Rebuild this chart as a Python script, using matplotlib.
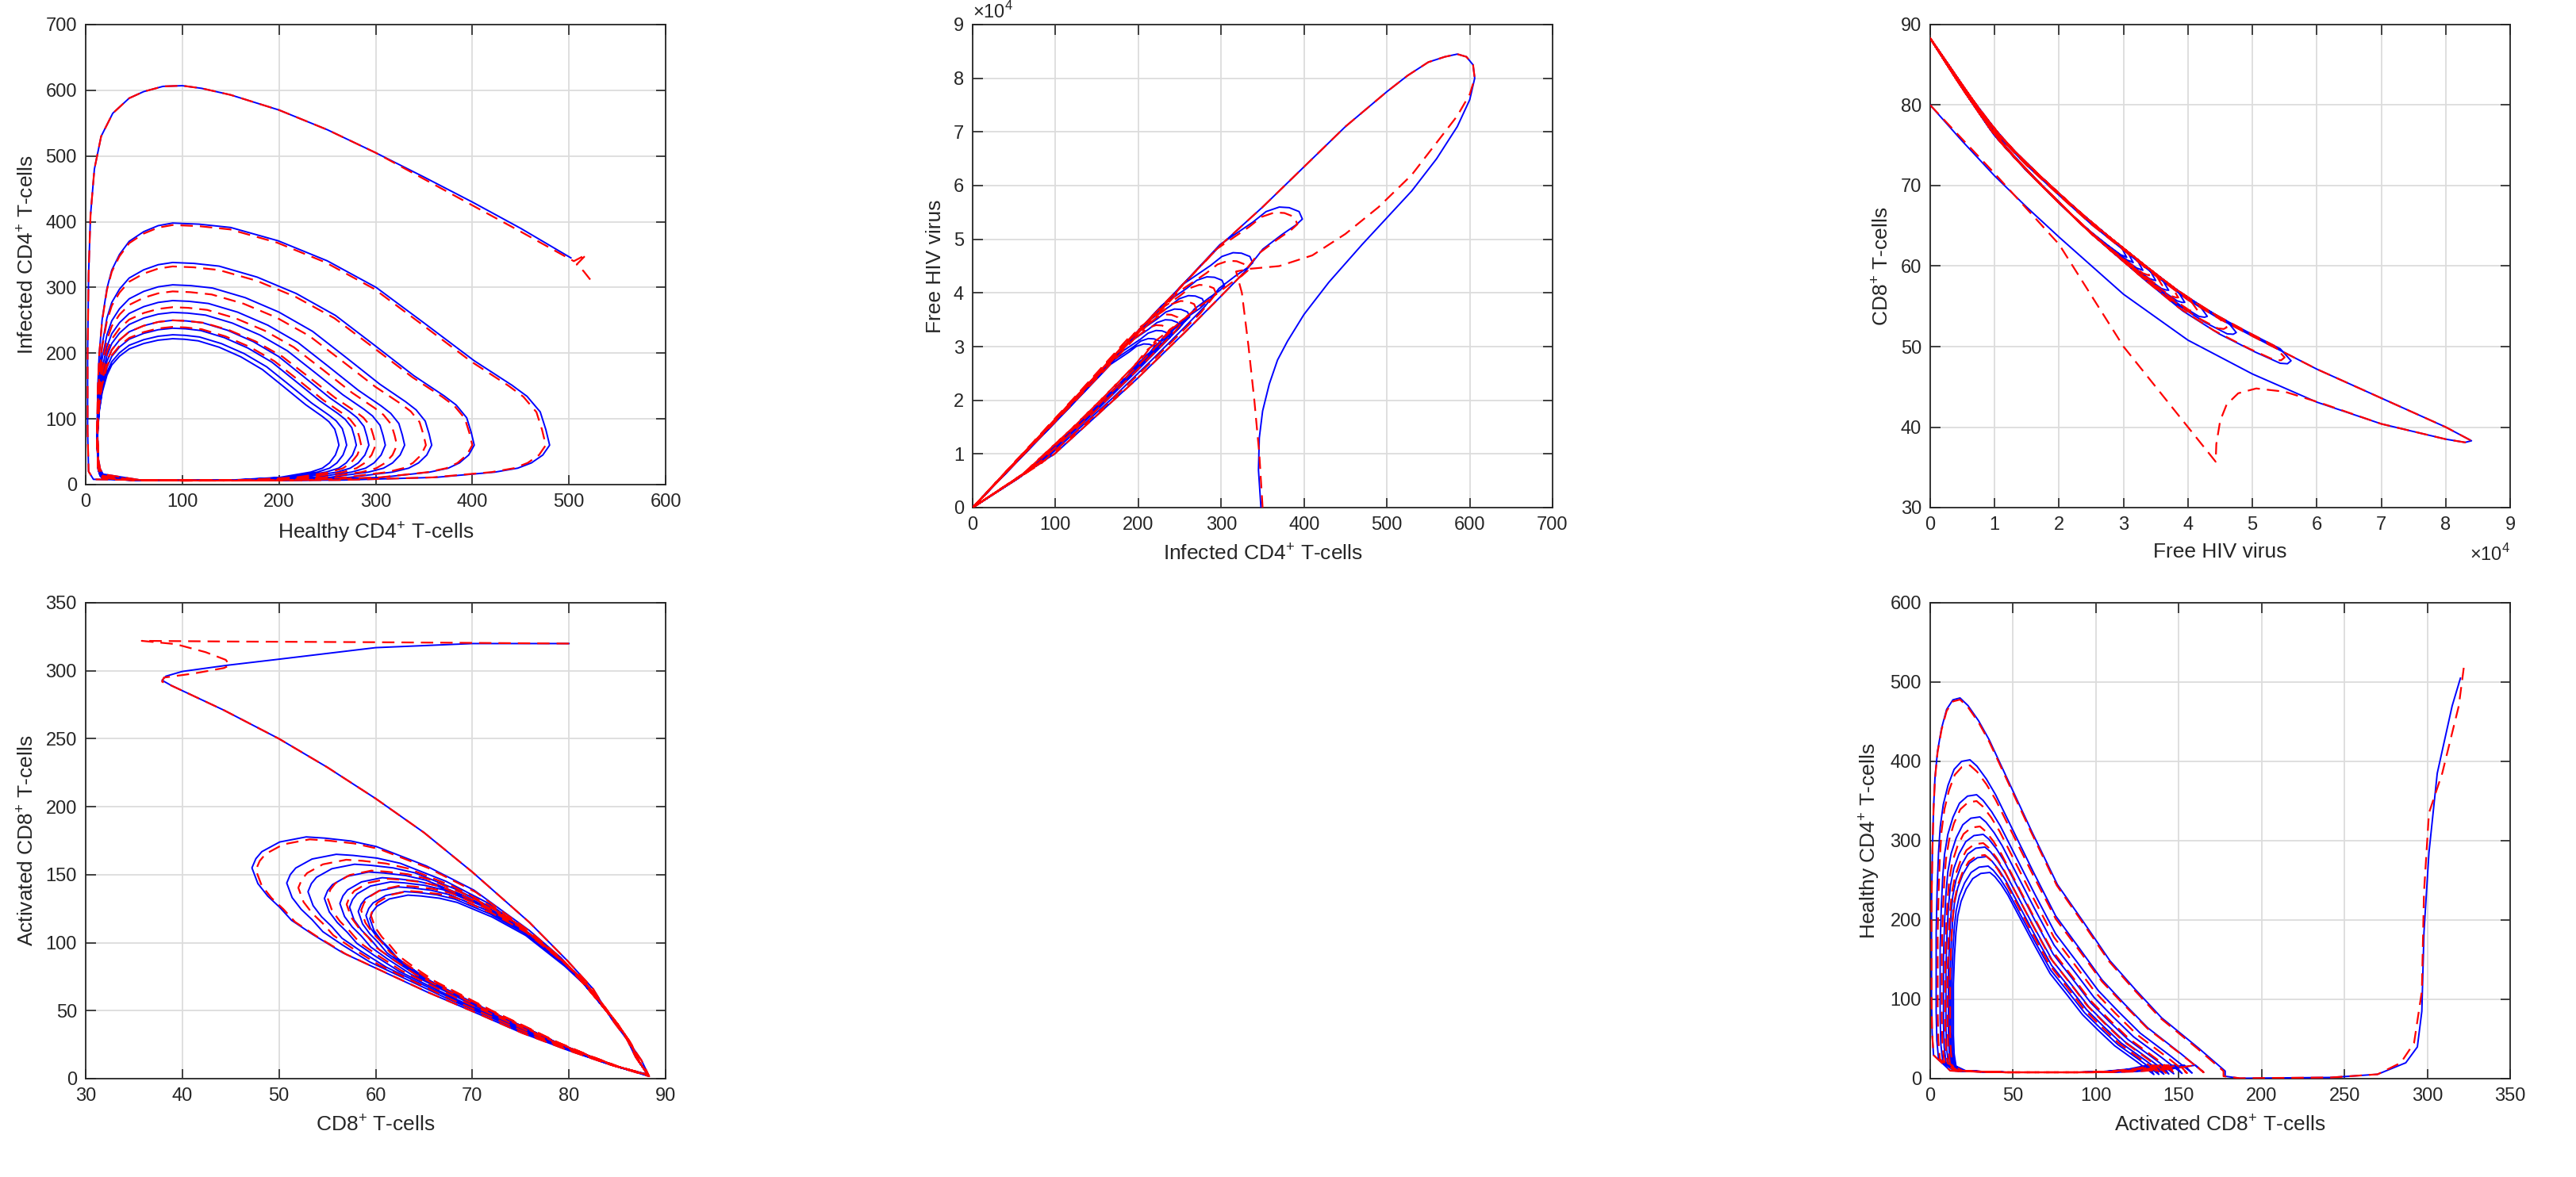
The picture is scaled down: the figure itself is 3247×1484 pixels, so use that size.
import numpy as np
import matplotlib
matplotlib.use("Agg")
import matplotlib.pyplot as plt

plt.rcParams['font.family'] = ['Liberation Sans', 'DejaVu Sans']
plt.rcParams['mathtext.fontset'] = 'custom'
plt.rcParams['mathtext.rm'] = 'Liberation Sans'

# ---------------- data ----------------
# Panel TL: healthy (x) vs infected (y)
tl_blue_start_x = [502, 450, 400, 350, 300, 250, 200, 150, 120, 100, 80, 60, 45, 28, 16, 9, 5, 3, 2, 2, 3, 8]
tl_blue_start_y = [345, 390, 430, 468, 505, 540, 570, 593, 603, 607, 606, 598, 588, 565, 530, 480, 410, 320, 200, 80, 20, 8]
tl_blue_R = [480, 402, 358, 330, 310, 293, 280, 270, 262]
tl_blue_P = [398, 338, 304, 280, 262, 250, 238, 228, 222]
tl_red_start_x = [522, 515, 508, 518, 505, 450, 400, 350, 300, 250, 200, 150, 120, 100, 80, 60, 45, 28, 16, 9, 5, 3, 2, 2, 3, 8]
tl_red_start_y = [312, 325, 335, 350, 340, 385, 425, 465, 505, 540, 570, 593, 603, 607, 606, 598, 588, 565, 530, 480, 410, 320, 200, 80, 20, 8]
tl_red_R = [476, 400, 352, 322, 300, 285]
tl_red_P = [395, 332, 294, 270, 250, 240]

# Panel TM: infected (x) vs virus (y, x1e4)
tm_blue_start_x = [348, 345, 346, 350, 358, 368, 380, 400, 430, 470, 500, 530, 560, 585, 600, 606, 604, 596, 585]
tm_blue_start_y = [0, 0.7, 1.3, 1.8, 2.3, 2.75, 3.1, 3.6, 4.2, 4.9, 5.4, 5.9, 6.5, 7.1, 7.6, 8.0, 8.25, 8.4, 8.45]
tm_outer_up_x = [570, 550, 525, 500, 450, 400, 350, 300, 200, 100, 0]
tm_outer_up_y = [8.4, 8.3, 8.05, 7.75, 7.1, 6.35, 5.6, 4.9, 3.3, 1.65, 0]
tm_blue_P = [398, 338, 304, 280, 262, 250, 238, 228, 222]
tm_blue_V = [5.6, 4.75, 4.3, 3.95, 3.7, 3.5, 3.3, 3.15, 3.05]
tm_red_start_x = [350, 346, 340, 333, 325, 318, 335, 370, 410, 450, 490, 530, 560, 585, 600, 606, 604, 596, 585]
tm_red_start_y = [0, 1.0, 2.0, 3.0, 4.0, 4.4, 4.45, 4.5, 4.7, 5.1, 5.6, 6.2, 6.8, 7.3, 7.7, 8.0, 8.25, 8.4, 8.45]
tm_red_P = [392, 332, 294, 270, 250, 238]
tm_red_V = [5.5, 4.6, 4.15, 3.85, 3.6, 3.4]

# Panel TR: virus (x, x1e4) vs CD8 (y)
tr_upper_v = [0, 0.5, 1, 1.5, 2, 2.5, 3, 3.5, 4, 4.5, 5, 6, 7, 8, 8.4]
tr_upper_c = [88.3, 82.2, 76.6, 72.5, 68.8, 65.2, 62.0, 58.8, 55.8, 53.4, 51.3, 47.2, 43.6, 40.0, 38.3]
tr_blue_start_v = [0, 0.5, 1, 1.5, 2, 3, 4, 5, 6, 7, 8, 8.3, 8.4]
tr_blue_start_c = [80, 75.5, 71.2, 67.3, 63.6, 56.5, 50.8, 46.6, 43.1, 40.4, 38.5, 38.1, 38.3]
tr_blue_V = [5.6, 4.75, 4.3, 3.95, 3.7, 3.5, 3.3, 3.15, 3.05]
tr_red_start_v = [0, 1, 2, 3, 4, 4.43, 4.44, 4.5, 4.6, 4.78, 5.06, 5.5, 6.06, 7, 8, 8.3, 8.4]
tr_red_start_c = [80, 71.5, 62.7, 50.0, 40.0, 35.7, 37.9, 40.8, 42.8, 44.2, 44.8, 44.4, 43.0, 40.4, 38.5, 38.1, 38.3]
tr_red_V = [5.5, 4.6, 4.15, 3.85, 3.6, 3.4]

# Panel BL: CD8 (x) vs activated CD8 (y)
bl_blue_start_x = [80, 70, 60, 50, 44.6, 40, 38.3, 37.9, 38.9, 44.3, 50, 55, 60, 65, 70, 75.9, 79.8, 82.5, 84.4, 86.2, 87.5, 88.3]
bl_blue_start_y = [320, 320, 317, 308.5, 304, 299.5, 296, 293, 289, 271, 250, 229, 206, 181, 152, 115, 87, 66, 44, 27, 13.5, 1.7]
bl_blue_L = [47.2, 50.8, 53.0, 54.7, 56.3, 57.3, 58.2, 59.0, 59.4]
bl_blue_Y = [177.8, 165, 157.7, 152, 147.8, 144.7, 141, 137.6, 135]
bl_red_start_x = [80, 60, 45, 35.8, 39.3, 42.4, 44.5, 44.9, 44.3, 41.2, 38.1, 37.9, 38.9, 44.3, 50, 55, 60, 65, 70, 75.9, 79.8, 82.5, 84.4, 86.2, 87.5, 88.3]
bl_red_start_y = [320, 321, 321.5, 322, 319.6, 313.7, 308, 304, 302, 298, 295, 292, 289, 271, 250, 229, 206, 181, 152, 115, 87, 66, 44, 27, 13.5, 1.7]
bl_red_L = [47.6, 52.0, 55.0, 57.0, 58.5, 59.5]
bl_red_Y = [176, 161, 153, 147, 142, 138]

# Panel BR: activated CD8 (x) vs healthy (y)
br_blue_start_x = [320, 315, 306, 301, 298, 296.7, 294, 287, 270, 242, 187, 178]
br_blue_start_y = [505, 470, 385, 285, 185, 85, 40, 20, 5.5, 1.5, 0.5, 3]
br_blue_T = [178, 165, 158, 152, 147, 144, 141, 138, 135, 133]
br_blue_Y = [480, 402, 358, 330, 308, 292, 280, 268, 260]
br_blue_xp = [18, 24, 28, 30, 32, 33, 34, 35, 36]
br_blue_xl = [0.8, 3.6, 6, 8, 9.5, 11, 12, 13, 14]
br_red_start_x = [322, 319, 309, 301, 298, 296.7, 292, 284, 270, 242, 187, 177]
br_red_start_y = [518, 470, 385, 335, 235, 110, 45, 20, 5.5, 1.5, 0.5, 3]
br_red_T = [177, 165, 155, 148, 143, 139, 136]
br_red_Y = [478, 395, 350, 318, 297, 282]
br_red_xp = [18, 24, 28, 30, 32, 33]
br_red_xl = [0.8, 4.5, 7, 9, 10.5, 12]

# ---------------- loop shapes (fractions read from the outer loops) ----------------
TL_BOT = [(.1, 7), (.3, 6), (.55, 7), (.75, 11), (.88, 19), (.93, 25), (.96, 33), (.985, 45), (1.0, 60)]
def tl_loop(R, P, Rn):
    xs, ys = [], []
    g = [1, .99, .975, .94, .9, .8, .667, .54, .41, .28, .154, .07, 0]
    h = [0, .07, .15, .22, .27, .38, .55, .71, .83, .92, .98, .995, 1]
    for a, b in zip(g, h):
        xs.append(90 + (R - 90) * a); ys.append(60 + (P - 60) * b)
    for x, f in [(75, .99), (60, .967), (45, .93), (35, .88), (27, .82), (22, .75), (17, .63), (14, .5),
                 (12.5, .37), (12, .25), (13, .1), (15, .06), (18, .04)]:
        xs.append(x); ys.append(P * f)
    if Rn is not None:
        for k, y in TL_BOT:
            xs.append(18 + (Rn - 18) * k); ys.append(y)
    return xs, ys

def tl_path(sx, sy, R, P):
    xs, ys = list(sx), list(sy)
    for k, y in TL_BOT:
        xs.append(8 + (R[0] - 8) * k); ys.append(y)
    for i in range(len(P)):
        Rn = R[i + 1] if i + 1 < len(R) else None
        lx, ly = tl_loop(R[i], P[i], Rn)
        xs += lx; ys += ly
    return xs, ys

TM_F = [(.25, .18), (.5, .43), (.65, .59), (.75, .70), (.83, .79), (.88, .86), (.94, .91), (.98, .94),
        (1.0, .96), (.99, .985), (.96, .998), (.93, 1.0), (.89, .985), (.85, .95),
        (.75, .875), (.5, .58), (.25, .29), (0, 0)]
def tm_path(sx, sy, P, V):
    xs, ys = list(sx) + tm_outer_up_x, list(sy) + tm_outer_up_y
    for p, v in zip(P, V):
        for fx, fy in TM_F:
            xs.append(p * fx); ys.append(v * fy)
    return xs, ys

def U(v):
    return float(np.interp(v, tr_upper_v, tr_upper_c))

def tr_path(sv, sc, V):
    xs, ys = list(sv), list(sc)
    back = tr_upper_v[::-1]
    xs += back[1:]; ys += [U(b) for b in back[1:]]
    out_f = [.1, .2, .3, .4, .5, .6, .7, .8, .9, .97]
    ret_f = [.99, .97, .9, .8, .7, .6, .5, .4, .3, .2, .1, 0]
    ret_o = [-1.2, -1.6, -1.8, -1.9, -1.85, -1.6, -1.3, -1.0, -0.7, -0.4, -0.2, 0]
    for v in V:
        for f in out_f:
            xs.append(f * v); ys.append(U(f * v) + 0.2)
        xs.append(v); ys.append(U(v) - 0.6)
        for f, o in zip(ret_f, ret_o):
            xs.append(f * v); ys.append(U(f * v) + o * v / 5.6)
    return xs, ys

BL_F = [(.1, .06), (.2, .116), (.32, .19), (.44, .276), (.56, .36), (.686, .456), (.77, .52), (.846, .596),
        (.9, .655), (.93, .709), (.96, .755), (.985, .807), (1, .872), (.99, .91),
        (.975, .939), (.93, .979), (.863, 1), (.816, .995), (.75, .983), (.686, .96), (.56, .88),
        (.44, .78), (.3, .613), (.22, .5), (.157, .382), (.1, .27), (.059, .18), (.032, .09), (0, .017)]
def bl_path(sx, sy, L, Y):
    xs, ys = list(sx), list(sy)
    for l, y in zip(L, Y):
        for s, f in BL_F:
            xs.append(88.2 - (88.2 - l) * s); ys.append(y * f)
    return xs, ys

BR_UP = [(1, .02), (.9, .08), (.76, .16), (.66, .235), (.565, .31), (.467, .41), (.367, .51), (.27, .65),
         (.17, .80), (.11, .89), (.07, .94), (.03, .98), (0, 1)]
BR_LEFT = [(.75, .995), (.53, .97), (.35, .92), (.21, .86), (.12, .79), (.07, .71), (.03, .6), (0, .46),
           (0, .33), (0, .21), (.02, .12), (.07, .062)]
BR_BOT = [(.069, 10), (.15, 9), (.27, 8), (.45, 8), (.62, 8), (.75, 9), (.875, 12), (.97, 17)]
def br_path(sx, sy, T, Y, XP, XL):
    xs, ys = list(sx), list(sy)
    for i in range(len(Y)):
        t, yv, xp, xl = T[i], Y[i], XP[i], XL[i]
        for g, f in BR_UP:
            xs.append(xp + (t - xp) * g); ys.append(yv * f)
        for hh, f in BR_LEFT:
            xs.append(xl + (xp - xl) * hh); ys.append(yv * f)
        if i + 1 < len(Y):
            tn = T[i + 1]
            for q, y in BR_BOT:
                xs.append(xl + (tn - xl) * q); ys.append(y)
    return xs, ys

# ---------------- figure ----------------
fig = plt.figure(figsize=(32.47, 14.84), dpi=100)
W, H = 3247, 1484
def ax_at(x0, x1, y0, y1):
    return fig.add_axes([x0 / W, 1 - y1 / H, (x1 - x0) / W, (y1 - y0) / H])

axes = {
    'tl': ax_at(108, 839, 31, 611),
    'tm': ax_at(1226, 1957, 31, 640),
    'tr': ax_at(2433, 3164, 31, 640),
    'bl': ax_at(108, 839, 760, 1360),
    'br': ax_at(2433, 3164, 760, 1360),
}
BLUE = dict(color='#0000ff', lw=1.4, zorder=3, solid_joinstyle='round')
RED = dict(color='#ff0000', lw=1.6, dashes=(7, 4), zorder=4)

def style(ax, xlim, ylim, xt, yt, xl, yl):
    ax.set_xlim(*xlim); ax.set_ylim(*ylim)
    ax.set_xticks(xt); ax.set_yticks(yt)
    ax.grid(True, color='#dcdcdc', lw=1.3, zorder=0)
    ax.set_axisbelow(True)
    ax.tick_params(direction='in', length=9, width=1.2, top=True, right=True,
                   labelsize=17, colors='#262626', pad=8)
    for s in ax.spines.values():
        s.set_color('#262626'); s.set_linewidth(1.3)
    ax.set_xlabel(xl, fontsize=19, color='#262626', labelpad=8)
    ax.set_ylabel(yl, fontsize=19, color='#262626', labelpad=8)

ax = axes['tl']
x, y = tl_path(tl_blue_start_x, tl_blue_start_y, tl_blue_R, tl_blue_P); ax.plot(x, y, **BLUE)
x, y = tl_path(tl_red_start_x, tl_red_start_y, tl_red_R, tl_red_P); ax.plot(x, y, **RED)
style(ax, (0, 600), (0, 700), range(0, 601, 100), range(0, 701, 100),
      'Healthy CD4$^{+}$ T-cells', 'Infected CD4$^{+}$ T-cells')

ax = axes['tm']
x, y = tm_path(tm_blue_start_x, tm_blue_start_y, tm_blue_P, tm_blue_V); ax.plot(x, y, **BLUE)
x, y = tm_path(tm_red_start_x, tm_red_start_y, tm_red_P, tm_red_V); ax.plot(x, y, **RED)
style(ax, (0, 700), (0, 9), range(0, 701, 100), range(0, 10),
      'Infected CD4$^{+}$ T-cells', 'Free HIV virus')
ax.text(0.0, 1.005, r'$\times10^{4}$', transform=ax.transAxes, fontsize=17,
        color='#262626', ha='left', va='bottom')

ax = axes['tr']
x, y = tr_path(tr_blue_start_v, tr_blue_start_c, tr_blue_V); ax.plot(x, y, **BLUE)
x, y = tr_path(tr_red_start_v, tr_red_start_c, tr_red_V); ax.plot(x, y, **RED)
style(ax, (0, 9), (30, 90), range(0, 10), range(30, 91, 10),
      'Free HIV virus', 'CD8$^{+}$ T-cells')
ax.text(1.0, -0.075, r'$\times10^{4}$', transform=ax.transAxes, fontsize=17,
        color='#262626', ha='right', va='top')

ax = axes['bl']
x, y = bl_path(bl_blue_start_x, bl_blue_start_y, bl_blue_L, bl_blue_Y); ax.plot(x, y, **BLUE)
x, y = bl_path(bl_red_start_x, bl_red_start_y, bl_red_L, bl_red_Y); ax.plot(x, y, **RED)
style(ax, (30, 90), (0, 350), range(30, 91, 10), range(0, 351, 50),
      'CD8$^{+}$ T-cells', 'Activated CD8$^{+}$ T-cells')

ax = axes['br']
x, y = br_path(br_blue_start_x, br_blue_start_y, br_blue_T, br_blue_Y, br_blue_xp, br_blue_xl); ax.plot(x, y, **BLUE)
x, y = br_path(br_red_start_x, br_red_start_y, br_red_T, br_red_Y, br_red_xp, br_red_xl); ax.plot(x, y, **RED)
style(ax, (0, 350), (0, 600), range(0, 351, 50), range(0, 601, 100),
      'Activated CD8$^{+}$ T-cells', 'Healthy CD4$^{+}$ T-cells')

fig.savefig('out.png', dpi=100)
